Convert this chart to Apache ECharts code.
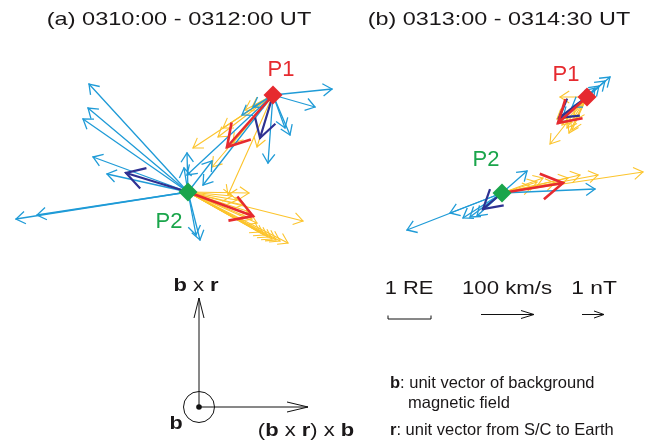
<!DOCTYPE html>
<html>
<head>
<meta charset="utf-8">
<script src="https://cdn.jsdelivr.net/npm/echarts@6/dist/echarts.min.js"></script>
<style>
  html, body { margin: 0; padding: 0; background: #fff; }
  #chart { width: 649px; height: 443px; }
</style>
</head>
<body>
<div id="chart"></div>
<script>
// Spacecraft positions (plot units) for the two intervals
const p1a = [273, 95];
const p2a = [188, 192];
const p1b = [587, 97];
const p2b = [502, 193];

// Interval (a) 0310:00 - 0312:00 UT : vector components at each spacecraft
const blueA1 = [[59, -6], [42, 12], [-5, 68], [17, 40], [12, 33], [-31, 20], [-20, 12], [-86, 80], [-70, 90]];
const yellowA1 = [[-80, 53], [-55, 42], [-50, 33], [-16, 52], [-28, 15], [-21, 12], [-61, 72], [-45, 100], [-40, 48]];
const navyA1 = [[-13, 43]];
const redA1 = [[-46, 52]];

const blueA2 = [[-99, -108], [-100, -84], [-105, -73], [-95, -35], [-81, -18], [-172, 27], [-151, 23],
                [-1, -39], [-4, -24], [24, -31], [12, 48], [8, 43]];
const yellowA2 = [[61, 1], [115, 29], [100, 51], [84, 47], [80, 45], [76, 43], [72, 40], [69, 31],
                  [64, 27], [55, 13], [49, 8], [44, 4], [62, 20], [88, 48], [92, 49]];
const navyA2 = [[-62, -19]];
const redA2 = [[65, 24]];

// Interval (b) 0313:00 - 0314:30 UT
const blueB1 = [[23, -20], [18, -16], [12, -11], [8, -9], [-29, 25], [-24, 20], [-15, 10]];
const yellowB1 = [[-27, 0], [-37, 47], [-20, 31], [-15, 33], [-25, 28], [-12, 23], [-30, 22], [-18, 36]];
const navyB1 = [[-28, 21]];
const redB1 = [[-29, 26]];

const blueB2 = [[25, -22], [93, -4], [-95, 37], [-52, 20], [-39, 25], [-32, 24], [-25, 23]];
const yellowB2 = [[141, -21], [96, -18], [78, -18], [66, -15], [41, -15], [35, -11], [53, -10], [30, -6]];
const navyB2 = [[-19, 16]];
const redB2 = [[61, -10]];

const COLORS = {
  blue: '#1f9bd7',
  yellow: '#fcc42c',
  navy: '#2e3192',
  red: '#e62a2f',
  green: '#1aa54b',
  text: '#1a1718'
};

function anchored(origin, vectors) {
  return vectors.map(v => [origin[0], origin[1], v[0], v[1]]);
}

function arrowRenderer(color, width, headLen, headAng) {
  return function (params, api) {
    const ox = api.value(0), oy = api.value(1);
    const s = api.coord([ox, oy]);
    const e = api.coord([ox + api.value(2), oy + api.value(3)]);
    const a = Math.atan2(e[1] - s[1], e[0] - s[0]);
    const b1 = [e[0] - headLen * Math.cos(a - headAng), e[1] - headLen * Math.sin(a - headAng)];
    const b2 = [e[0] - headLen * Math.cos(a + headAng), e[1] - headLen * Math.sin(a + headAng)];
    return {
      type: 'group',
      children: [
        { type: 'line', shape: { x1: s[0], y1: s[1], x2: e[0], y2: e[1] },
          style: { stroke: color, lineWidth: width, lineCap: 'round' } },
        { type: 'polyline', shape: { points: [b1, e, b2] },
          style: { stroke: color, lineWidth: width, fill: null, lineJoin: 'miter' } }
      ]
    };
  };
}

function arrowSeries(name, data, color, width, headLen, headAng) {
  return {
    type: 'custom',
    name: name,
    coordinateSystem: 'cartesian2d',
    renderItem: arrowRenderer(color, width, headLen, headAng),
    encode: { x: 0, y: 1 },
    data: data,
    silent: true,
    animation: false
  };
}

const yellowData = anchored(p1a, yellowA1).concat(anchored(p2a, yellowA2), anchored(p1b, yellowB1), anchored(p2b, yellowB2));
const blueData = anchored(p1a, blueA1).concat(anchored(p2a, blueA2), anchored(p1b, blueB1), anchored(p2b, blueB2));
const navyData = anchored(p1a, navyA1).concat(anchored(p2a, navyA2), anchored(p1b, navyB1), anchored(p2b, navyB2));
const redData = anchored(p1a, redA1).concat(anchored(p2a, redA2), anchored(p1b, redB1), anchored(p2b, redB2));

const SANS = '"Liberation Sans", Arial, Helvetica, sans-serif';

function label(text, x, y, size, color, opts) {
  opts = opts || {};
  return {
    type: 'text',
    x: x, y: y,
    scaleX: opts.scaleX || 1,
    silent: true,
    style: {
      text: text,
      font: (opts.weight || 'normal') + ' ' + size + 'px ' + SANS,
      fill: color,
      align: opts.align || 'center',
      verticalAlign: 'middle',
      rich: opts.rich
    }
  };
}

function boldRich(size) {
  return { b: { fontWeight: 'bold', fontSize: size, fontFamily: SANS, fill: COLORS.text } };
}

const ink = '#111';
const graphics = [
  // interval titles
  label('(a) 0310:00 - 0312:00 UT', 179, 20, 19, COLORS.text, { scaleX: 1.24 }),
  label('(b) 0313:00 - 0314:30 UT', 499, 20, 19, COLORS.text, { scaleX: 1.23 }),
  // spacecraft labels
  label('P1', 281, 70, 22, COLORS.red),
  label('P2', 169, 222, 22, COLORS.green),
  label('P1', 566, 75, 22, COLORS.red),
  label('P2', 486, 160, 22, COLORS.green),

  // local frame: b x r (up), (b x r) x b (right), b out of page
  { type: 'line', silent: true, shape: { x1: 199, y1: 407, x2: 199, y2: 298 }, style: { stroke: ink, lineWidth: 1 } },
  { type: 'polyline', silent: true, shape: { points: [[194, 318], [199, 298], [204, 318]] }, style: { stroke: ink, lineWidth: 1, fill: null } },
  { type: 'line', silent: true, shape: { x1: 199, y1: 407, x2: 308, y2: 407 }, style: { stroke: ink, lineWidth: 1 } },
  { type: 'polyline', silent: true, shape: { points: [[287, 402], [308, 407], [287, 412]] }, style: { stroke: ink, lineWidth: 1, fill: null } },
  { type: 'circle', silent: true, shape: { cx: 199, cy: 407, r: 15.5 }, style: { stroke: ink, lineWidth: 1, fill: null } },
  { type: 'circle', silent: true, shape: { cx: 199, cy: 407, r: 2.8 }, style: { fill: ink } },
  label('{b|b} x {b|r}', 196, 286, 18, COLORS.text, { scaleX: 1.22, rich: boldRich(18) }),
  label('b', 176, 424, 18, COLORS.text, { scaleX: 1.2, weight: 'bold' }),
  label('({b|b} x {b|r}) x {b|b}', 306, 431, 18, COLORS.text, { scaleX: 1.22, rich: boldRich(18) }),

  // scale key
  label('1 RE', 409, 289, 19, COLORS.text, { scaleX: 1.15 }),
  label('100 km/s', 507, 289, 19, COLORS.text, { scaleX: 1.17 }),
  label('1 nT', 594, 289, 19, COLORS.text, { scaleX: 1.2 }),
  { type: 'polyline', silent: true, shape: { points: [[388, 315.5], [388, 319], [431, 319], [431, 315.5]] }, style: { stroke: ink, lineWidth: 1, fill: null } },
  { type: 'line', silent: true, shape: { x1: 481, y1: 314.5, x2: 534, y2: 314.5 }, style: { stroke: ink, lineWidth: 1 } },
  { type: 'polyline', silent: true, shape: { points: [[521, 310.5], [534, 314.5], [521, 318.5]] }, style: { stroke: ink, lineWidth: 1, fill: null } },
  { type: 'line', silent: true, shape: { x1: 582, y1: 314.5, x2: 604, y2: 314.5 }, style: { stroke: ink, lineWidth: 1 } },
  { type: 'polyline', silent: true, shape: { points: [[594, 311], [604, 314.5], [594, 318]] }, style: { stroke: ink, lineWidth: 1, fill: null } },

  // definitions
  label('{b|b}: unit vector of background', 390, 383, 16.5, COLORS.text, { align: 'left', rich: boldRich(16.5) }),
  label('magnetic field', 408, 403, 16.5, COLORS.text, { align: 'left' }),
  label('{b|r}: unit vector from S/C to Earth', 390, 430, 16.5, COLORS.text, { align: 'left', rich: boldRich(16.5) })
];

const chart = echarts.init(document.getElementById('chart'), null, { renderer: 'canvas' });
chart.setOption({
  animation: false,
  backgroundColor: '#fff',
  grid: { left: 0, right: 0, top: 0, bottom: 0 },
  xAxis: { type: 'value', min: 0, max: 649, show: false },
  yAxis: { type: 'value', min: 0, max: 443, inverse: true, show: false },
  series: [
    arrowSeries('yellow', yellowData, COLORS.yellow, 1.1, 11, 0.58),
    arrowSeries('blue', blueData, COLORS.blue, 1.3, 11, 0.6),
    arrowSeries('navy', navyData, COLORS.navy, 2.2, 21, 0.53),
    arrowSeries('red', redData, COLORS.red, 2.6, 25, 0.54),
    {
      type: 'scatter', name: 'P1', silent: true, symbol: 'diamond', symbolSize: 19,
      itemStyle: { color: COLORS.red, opacity: 1 },
      data: [p1a, p1b], z: 5
    },
    {
      type: 'scatter', name: 'P2', silent: true, symbol: 'diamond', symbolSize: 19,
      itemStyle: { color: COLORS.green, opacity: 1 },
      data: [p2a, p2b], z: 5
    }
  ],
  graphic: graphics
});
</script>
</body>
</html>
